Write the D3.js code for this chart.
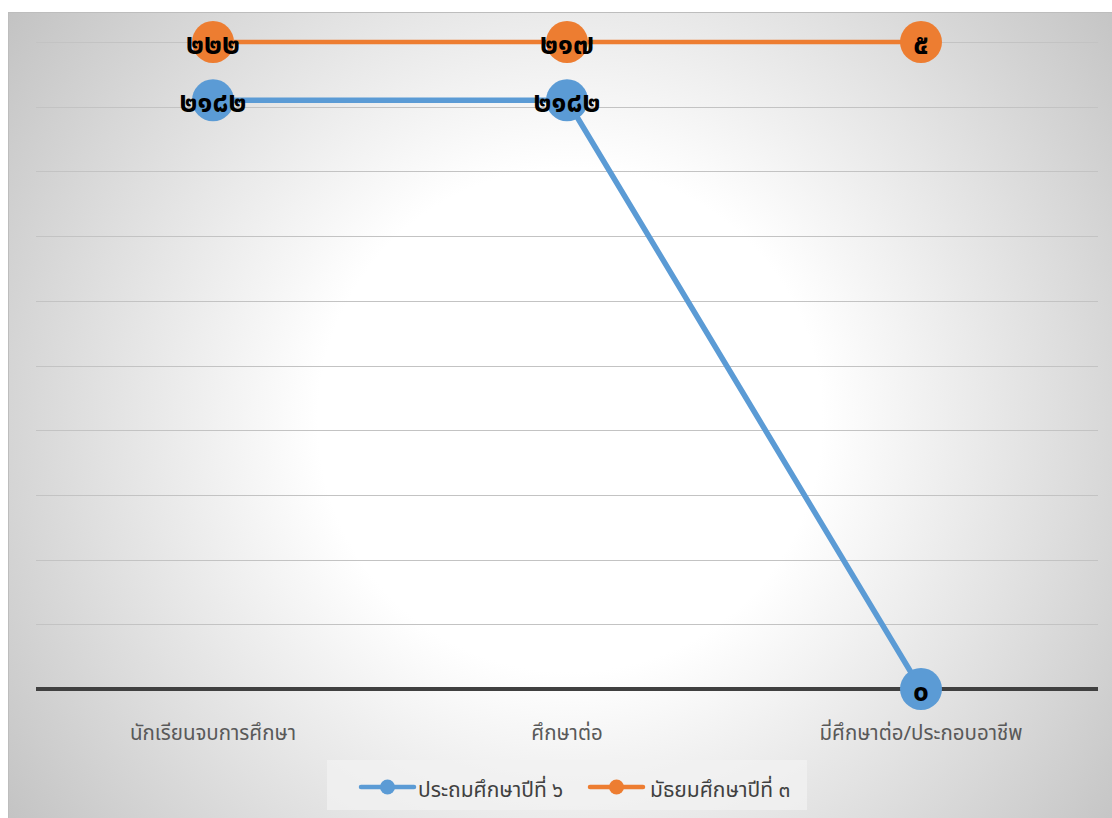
<!DOCTYPE html>
<html><head><meta charset="utf-8">
<script src="https://cdn.jsdelivr.net/npm/d3@7"></script>
<style>html,body{margin:0;padding:0;background:#fff;}svg{display:block;}</style>
</head><body>
<svg id="chart" width="1112" height="818"></svg>
<script>
const categories = ["นักเรียนจบการศึกษา", "ศึกษาต่อ", "มี่ศึกษาต่อ/ประกอบอาชีพ"];
const seriesNames = ["ประถมศึกษาปีที่ ๖", "มัธยมศึกษาปีที่ ๓"];
const p6Values = [182, 182, 0];
const p6Labels = ["๒๑๘๒", "๒๑๘๒", "๐"];
const m3Values = [200, 200, 200];
const m3Labels = ["๒๒๒", "๒๑๗", "๕"];
const yTicks = [0, 20, 40, 60, 80, 100, 120, 140, 160, 180, 200];
const colors = ["#5b9bd5", "#ed7d31"];

const svg = d3.select("#chart");
const W = 1112, H = 818;
const thaiFont = "'Noto Sans Thai','Noto Sans Thai UI','Leelawadee UI',Tahoma,'Noto Sans',sans-serif";

const defs = svg.append("defs");
const rg = defs.append("radialGradient").attr("id", "bg")
  .attr("gradientUnits", "userSpaceOnUse")
  .attr("cx", 570).attr("cy", 420).attr("r", 700);
rg.append("stop").attr("offset", "0").attr("stop-color", "#ffffff");
rg.append("stop").attr("offset", "0.36").attr("stop-color", "#ffffff");
rg.append("stop").attr("offset", "1").attr("stop-color", "#c2c2c2");

svg.append("rect").attr("x", 8.5).attr("y", 12.5).attr("width", W - 8).attr("height", H - 12)
  .attr("fill", "url(#bg)").attr("stroke", "#bdbdbd").attr("stroke-width", 1);

const x = d3.scaleBand().domain(categories).range([36, 1098]).padding(0);
const y = d3.scaleLinear().domain([0, 200]).range([689, 42]);
const cx = c => x(c) + x.bandwidth() / 2;

// gridlines
svg.append("g").selectAll("line").data(yTicks.filter(t => t > 0)).join("line")
  .attr("x1", 36).attr("x2", 1098)
  .attr("y1", d => Math.round(y(d)) + 0.5).attr("y2", d => Math.round(y(d)) + 0.5)
  .attr("stroke", "#c3c3c3").attr("stroke-width", 1.2);

// baseline axis
svg.append("line").attr("x1", 36).attr("x2", 1098).attr("y1", y(0)).attr("y2", y(0))
  .attr("stroke", "#404040").attr("stroke-width", 4);

// category labels
const xAxis = d3.axisBottom(x).tickSize(0).tickPadding(0);
const gx = svg.append("g").attr("transform", `translate(0,${y(0)})`).call(xAxis);
gx.select(".domain").remove();
gx.selectAll("text").attr("y", 51).attr("dy", null)
  .style("font-family", thaiFont).style("font-size", "20.5px").attr("fill", "#595959");

const line = d3.line().x((d, i) => cx(categories[i])).y(d => y(d));
const series = [
  {vals: p6Values, labels: p6Labels, color: colors[0], w: 5.5},
  {vals: m3Values, labels: m3Labels, color: colors[1], w: 4.5}
];

series.forEach(s => {
  svg.append("path").datum(s.vals).attr("d", line).attr("fill", "none")
    .attr("stroke", s.color).attr("stroke-width", s.w).attr("stroke-linejoin", "round");
});
series.forEach(s => {
  svg.append("g").selectAll("circle").data(s.vals).join("circle")
    .attr("cx", (d, i) => cx(categories[i])).attr("cy", d => y(d)).attr("r", 21)
    .attr("fill", s.color);
});
series.forEach(s => {
  svg.append("g").selectAll("text").data(s.vals).join("text")
    .attr("x", (d, i) => cx(categories[i])).attr("y", d => y(d) + 12)
    .attr("text-anchor", "middle")
    .style("font-family", thaiFont).style("font-size", "28px").style("font-weight", "bold")
    .attr("fill", "#000")
    .text((d, i) => s.labels[i]);
});

// legend
svg.append("rect").attr("x", 327).attr("y", 760).attr("width", 480).attr("height", 50)
  .attr("fill", "#f2f2f2").attr("opacity", 0.75);
const legendItems = [{x0: 361, tx: 418}, {x0: 590, tx: 650}];
legendItems.forEach((li, i) => {
  const g = svg.append("g");
  g.append("line").attr("x1", li.x0).attr("x2", li.x0 + 53).attr("y1", 787).attr("y2", 787)
    .attr("stroke", colors[i]).attr("stroke-width", 4.5).attr("stroke-linecap", "round");
  g.append("circle").attr("cx", li.x0 + 26.5).attr("cy", 787).attr("r", 7.5).attr("fill", colors[i]);
  g.append("text").attr("x", li.tx).attr("y", 797)
    .style("font-family", thaiFont).style("font-size", "21px").attr("fill", "#404040")
    .text(seriesNames[i]);
});
</script>
</body></html>
